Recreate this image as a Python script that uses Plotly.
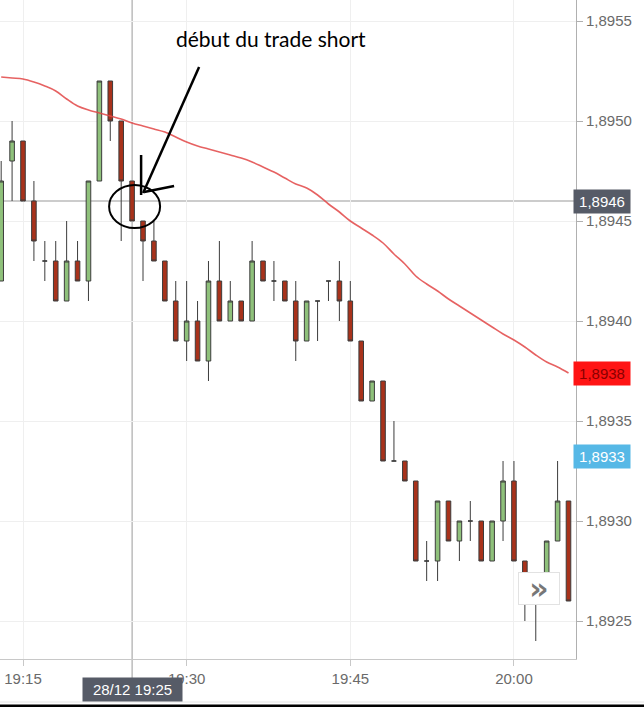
import pandas as pd
import plotly.graph_objects as go

# ---------------- data ----------------
start_time = "2017-12-28 19:13"
opens = [1.8942, 1.8948, 1.8949, 1.8946, 1.8943, 1.8943, 1.8941, 1.8943, 1.8942, 1.8947,
         1.8952, 1.8950, 1.8947, 1.8945, 1.8944, 1.8943, 1.8941, 1.8939, 1.8940, 1.8938,
         1.8942, 1.8940, 1.8941, 1.8940, 1.8943, 1.8942, 1.8942, 1.8941, 1.8939, 1.8941,
         1.8942, 1.8942, 1.8941, 1.8939, 1.8936, 1.8937, 1.8933, 1.8933, 1.8932, 1.8928,
         1.8928, 1.8931, 1.8929, 1.8930, 1.8930, 1.8928, 1.8930, 1.8932, 1.8928, 1.8926,
         1.8926, 1.8929, 1.8931]
highs = [1.8948, 1.8950, 1.8949, 1.8947, 1.8944, 1.8944, 1.8945, 1.8944, 1.8947, 1.8952,
         1.8952, 1.8950, 1.8947, 1.8945, 1.8945, 1.8943, 1.8942, 1.8942, 1.8941, 1.8943,
         1.8944, 1.8942, 1.8941, 1.8944, 1.8943, 1.8943, 1.8942, 1.8942, 1.8941, 1.8941,
         1.8942, 1.8943, 1.8942, 1.8939, 1.8937, 1.8937, 1.8935, 1.8933, 1.8932, 1.8929,
         1.8931, 1.8931, 1.8930, 1.8931, 1.8930, 1.8930, 1.8933, 1.8933, 1.8928, 1.8927,
         1.8929, 1.8933, 1.8931]
lows = [1.8942, 1.8946, 1.8946, 1.8943, 1.8942, 1.8941, 1.8941, 1.8942, 1.8941, 1.8947,
        1.8949, 1.8944, 1.8945, 1.8942, 1.8943, 1.8941, 1.8939, 1.8938, 1.8938, 1.8937,
        1.8940, 1.8940, 1.8940, 1.8940, 1.8942, 1.8941, 1.8941, 1.8938, 1.8939, 1.8939,
        1.8941, 1.8940, 1.8939, 1.8936, 1.8936, 1.8933, 1.8933, 1.8932, 1.8928, 1.8927,
        1.8927, 1.8929, 1.8928, 1.8929, 1.8928, 1.8928, 1.8929, 1.8928, 1.8925, 1.8924,
        1.8926, 1.8929, 1.8926]
closes = [1.8947, 1.8949, 1.8946, 1.8944, 1.8943, 1.8941, 1.8943, 1.8942, 1.8947, 1.8952,
          1.8950, 1.8947, 1.8945, 1.8944, 1.8943, 1.8941, 1.8939, 1.8940, 1.8938, 1.8942,
          1.8940, 1.8941, 1.8940, 1.8943, 1.8942, 1.8942, 1.8941, 1.8939, 1.8941, 1.8941,
          1.8942, 1.8941, 1.8939, 1.8936, 1.8937, 1.8933, 1.8933, 1.8932, 1.8928, 1.8928,
          1.8931, 1.8929, 1.8930, 1.8930, 1.8928, 1.8930, 1.8932, 1.8928, 1.8926, 1.8926,
          1.8929, 1.8931, 1.8926]
moving_avg = [1.89522, 1.895215, 1.89521, 1.895195, 1.895175, 1.89515, 1.89511, 1.895075,
              1.895055, 1.89504, 1.895025, 1.89501, 1.89499, 1.894975, 1.89496, 1.894945,
              1.89492, 1.894895, 1.894875, 1.89486, 1.894845, 1.89483, 1.894815, 1.894795,
              1.89477, 1.894745, 1.894715, 1.894685, 1.894665, 1.89463, 1.894585, 1.894545,
              1.8945, 1.894465, 1.89443, 1.89439, 1.894335, 1.894285, 1.894225, 1.894185,
              1.89415, 1.89411, 1.894075, 1.89404, 1.894005, 1.89397, 1.893935, 1.893905,
              1.89387, 1.89383, 1.893795, 1.89377, 1.89374]

y_ticks = [1.8925, 1.8930, 1.8935, 1.8940, 1.8945, 1.8950, 1.8955]
cursor_time = "2017-12-28 19:25"
cursor_price = 1.8946
cursor_date_label = "28/12 19:25"
ma_label = "1,8938"
current_price = 1.8933
note_text = "début du trade short"

times = pd.date_range(start_time, periods=len(opens), freq="min")

# ---------------- figure ----------------
W, H = 644, 707
plot_right, plot_bottom = 576, 659

fig = go.Figure()
fig.add_trace(go.Scatter(
    x=times, y=moving_avg, mode="lines",
    line=dict(color="rgba(226,70,70,0.85)", width=1.6, shape="spline"),
    hoverinfo="skip", showlegend=False))
fig.add_trace(go.Candlestick(
    x=times, open=opens, high=highs, low=lows, close=closes,
    increasing=dict(fillcolor="#8fc17b", line=dict(color="#3c3c3c", width=1)),
    decreasing=dict(fillcolor="#a8321b", line=dict(color="#3c3c3c", width=1)),
    whiskerwidth=0, showlegend=False))

t0 = pd.Timestamp("2017-12-28 19:15")
px_per_min = 10.91
x_left = t0 - pd.Timedelta(minutes=23 / px_per_min)
x_right = t0 + pd.Timedelta(minutes=(plot_right - 23) / px_per_min)
y_top = 1.8955 + 21 / 20 * 0.0001
y_bot = 1.8955 - (plot_bottom - 21) / 20 * 0.0001

fig.update_layout(
    width=W, height=H,
    margin=dict(l=0, r=W - plot_right, t=0, b=H - plot_bottom, pad=0),
    paper_bgcolor="white", plot_bgcolor="white",
    separators=", ",
    boxgap=0.4,
    font=dict(family="Liberation Sans, Arial", size=15, color="#6a6a6a"),
    xaxis=dict(
        type="date", range=[x_left, x_right], rangeslider=dict(visible=False),
        tickformat="%H:%M", dtick=15 * 60 * 1000, tick0="2017-12-28 19:00",
        showgrid=True, gridcolor="#efefef", gridwidth=1,
        showline=True, linecolor="#c8c8c8", linewidth=1,
        ticks="outside", ticklen=6, tickcolor="#c8c8c8",
        tickfont=dict(size=15, color="#6a6a6a"), zeroline=False, fixedrange=True),
    yaxis=dict(
        side="right", range=[y_bot, y_top], tickvals=y_ticks, tickformat=".4f",
        showgrid=True, gridcolor="#efefef", gridwidth=1,
        showline=True, linecolor="#b0b0b0", linewidth=1,
        ticks="outside", ticklen=6, tickcolor="#b0b0b0",
        tickfont=dict(size=15, color="#6a6a6a"), zeroline=False, fixedrange=True),
)

shapes = []
# crosshair
shapes.append(dict(type="line", xref="x", yref="paper", x0=cursor_time, x1=cursor_time,
                   y0=-0.03, y1=1, line=dict(color="#9a9a9a", width=1), layer="below"))
shapes.append(dict(type="line", xref="paper", yref="y", x0=0, x1=1,
                   y0=cursor_price, y1=cursor_price, line=dict(color="#9a9a9a", width=1.2), layer="below"))
# hand drawn annotation around the entry candle (pixel offsets from the crosshair)
hand = dict(xref="x", yref="y", xsizemode="pixel", ysizemode="pixel",
            xanchor=cursor_time, yanchor=cursor_price)
shapes.append(dict(type="circle", x0=-23, x1=28, y0=-27, y1=16,
                   line=dict(color="black", width=2), **hand))
shapes.append(dict(type="line", x0=67, y0=134, x1=11, y1=8,
                   line=dict(color="black", width=2.5), **hand))
shapes.append(dict(type="line", x0=9, y0=46, x1=9, y1=6,
                   line=dict(color="black", width=2.5), **hand))
shapes.append(dict(type="line", x0=12, y0=9, x1=42, y1=15,
                   line=dict(color="black", width=2.5), **hand))
# bottom page lines
shapes.append(dict(type="line", xref="paper", yref="paper", x0=0, x1=W / plot_right,
                   y0=(plot_bottom - 702) / plot_bottom, y1=(plot_bottom - 702) / plot_bottom,
                   line=dict(color="#e4e4e4", width=1)))
shapes.append(dict(type="rect", xref="paper", yref="paper", x0=0, x1=W / plot_right,
                   y0=(plot_bottom - 707) / plot_bottom, y1=(plot_bottom - 704.5) / plot_bottom,
                   line=dict(width=0), fillcolor="black"))
fig.update_layout(shapes=shapes)

ann = []
ann.append(dict(text=note_text, xref="paper", yref="paper", x=271 / plot_right,
                y=(plot_bottom - 38) / plot_bottom, xanchor="center", yanchor="middle",
                showarrow=False, font=dict(family="Lato", size=21, color="black")))
# price labels on the right axis
label_common = dict(xref="paper", yref="y", x=1, xanchor="left", yanchor="middle", xshift=-3,
                    showarrow=False, borderpad=3, width=50, align="center")
ann.append(dict(text=f"{cursor_price:.4f}".replace(".", ","), y=cursor_price,
                bgcolor="#565b67", font=dict(size=15, color="white"), **label_common))
ann.append(dict(text=ma_label, y=moving_avg[-1], bgcolor="#ff1414",
                font=dict(size=15, color="#8a0000"), **label_common))
ann.append(dict(text=f"{current_price:.4f}".replace(".", ","), y=current_price, yshift=5,
                bgcolor="#56b8e6", font=dict(size=15, color="white"), **label_common))
# date label under the cursor
ann.append(dict(text=cursor_date_label, xref="x", yref="paper", x=cursor_time,
                y=(plot_bottom - 689.5) / plot_bottom, xanchor="center", yanchor="middle",
                showarrow=False, bgcolor="#565b67", font=dict(size=15, color="white"),
                width=93, borderpad=3))
# scroll button
ann.append(dict(text="<b>»</b>", xref="paper", yref="paper", x=539 / plot_right,
                y=(plot_bottom - 588.5) / plot_bottom, xanchor="center", yanchor="middle",
                showarrow=False, bgcolor="white", bordercolor="#e2e2e2", borderwidth=1,
                width=38, height=29, font=dict(family="DejaVu Sans", size=30, color="#777777")))
fig.update_layout(annotations=ann)

fig.write_html("out.html", config=dict(displayModeBar=False),
               post_script="document.body.style.margin='0px';document.body.style.padding='0px';")
